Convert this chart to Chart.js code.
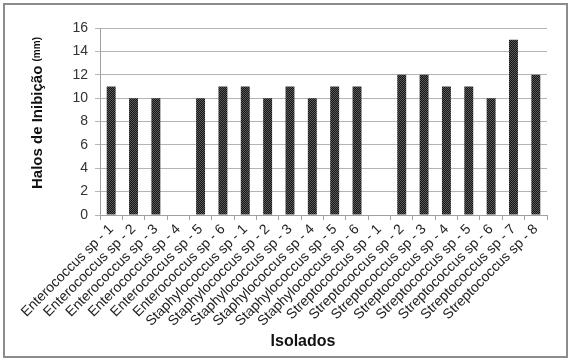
<!DOCTYPE html>
<html>
<head>
<meta charset="utf-8">
<script src="https://cdn.jsdelivr.net/npm/chart.js@4"></script>
<style>
  html, body { margin: 0; padding: 0; background: #fff; }
  #wrap { position: relative; width: 571px; height: 362px; }
  #frame { position: absolute; left: 3px; top: 3px; width: 561px; height: 351px; border: 2px solid #8c8c8c; }
  canvas { position: absolute; left: 0; top: 0; }
</style>
</head>
<body>
<div id="wrap">
  <div id="frame"></div>
  <canvas id="grafico" width="571" height="362"></canvas>
</div>
<script>
// categorias
const isolados = [
    "Enterococcus sp - 1", "Enterococcus sp - 2", "Enterococcus sp - 3",
    "Enterococcus sp - 4", "Enterococcus sp - 5", "Enterococcus sp - 6",
    "Staphylococcus sp - 1", "Staphylococcus sp - 2", "Staphylococcus sp - 3",
    "Staphylococcus sp - 4", "Staphylococcus sp - 5", "Staphylococcus sp - 6",
    "Streptococcus sp - 1", "Streptococcus sp - 2", "Streptococcus sp - 3",
    "Streptococcus sp - 4", "Streptococcus sp - 5", "Streptococcus sp - 6",
    "Streptococcus sp - 7", "Streptococcus sp - 8"
];

// halos (mm)
const halos = [11, 10, 10, 0, 10, 11, 11, 10, 11, 10, 11, 11, 0, 12, 12, 11, 11, 10, 15, 12];

const yMin = 0;
const yMax = 16;
const yStep = 2;

// padrão pontilhado das barras
function padrao() {
    const c = document.createElement("canvas");
    c.width = 2; c.height = 2;
    const g = c.getContext("2d");
    g.fillStyle = "#161616"; g.fillRect(0, 0, 2, 2);
    g.fillStyle = "#5a5a5a"; g.fillRect(0, 0, 1, 1); g.fillRect(1, 1, 1, 1);
    return g.createPattern(c, "repeat");
}

const ctx = document.getElementById("grafico").getContext("2d");

// títulos dos eixos desenhados à mão (fonte mista no eixo y)
const titulos = {
    id: "titulos",
    afterDraw(chart) {
        const c = chart.ctx;
        c.save();
        c.fillStyle = "#111";
        c.textBaseline = "middle";
        // eixo x
        c.font = "bold 16px 'Liberation Sans', Arial";
        c.textAlign = "center";
        c.fillText("Isolados", 303, 342);
        // eixo y
        c.translate(38, 113);
        c.rotate(-Math.PI / 2);
        const t1 = "Halos de Inibição ";
        const t2 = "(mm)";
        c.font = "bold 15px 'Liberation Sans', Arial";
        const w1 = c.measureText(t1).width;
        c.font = "bold 10px 'Liberation Sans', Arial";
        const w2 = c.measureText(t2).width;
        let x = -(w1 + w2) / 2;
        c.textAlign = "left";
        c.font = "bold 15px 'Liberation Sans', Arial";
        c.fillText(t1, x, 0);
        c.font = "bold 10px 'Liberation Sans', Arial";
        c.fillText(t2, x + w1, -1);
        c.restore();
    }
};

new Chart(ctx, {
    type: "bar",
    data: {
        labels: isolados,
        datasets: [{
            data: halos,
            backgroundColor: padrao(),
            borderWidth: 0,
            barPercentage: 0.5,
            categoryPercentage: 0.8
        }]
    },
    options: {
        responsive: false,
        animation: false,
        layout: { padding: { left: 4, right: 24, top: 28, bottom: 8 } },
        plugins: {
            legend: { display: false },
            tooltip: { enabled: false }
        },
        scales: {
            x: {
                grid: {
                    offset: true,
                    drawOnChartArea: false,
                    drawTicks: true,
                    tickLength: 5,
                    color: "#a0a0a0"
                },
                border: { color: "#a0a0a0" },
                ticks: {
                    minRotation: 45,
                    maxRotation: 45,
                    autoSkip: false,
                    color: "#222",
                    padding: 1,
                    font: { family: "'Liberation Sans', Arial", size: 14 }
                },
                afterFit(s) { s.height = 139; }
            },
            y: {
                min: yMin,
                max: yMax,
                ticks: {
                    stepSize: yStep,
                    color: "#333",
                    padding: 7,
                    font: { family: "'Liberation Sans', Arial", size: 14 }
                },
                grid: { color: "#b4b4b4", tickLength: 5 },
                border: { color: "#a0a0a0" },
                afterFit(s) { s.width = 96; }
            }
        }
    },
    plugins: [titulos]
});
</script>
</body>
</html>
